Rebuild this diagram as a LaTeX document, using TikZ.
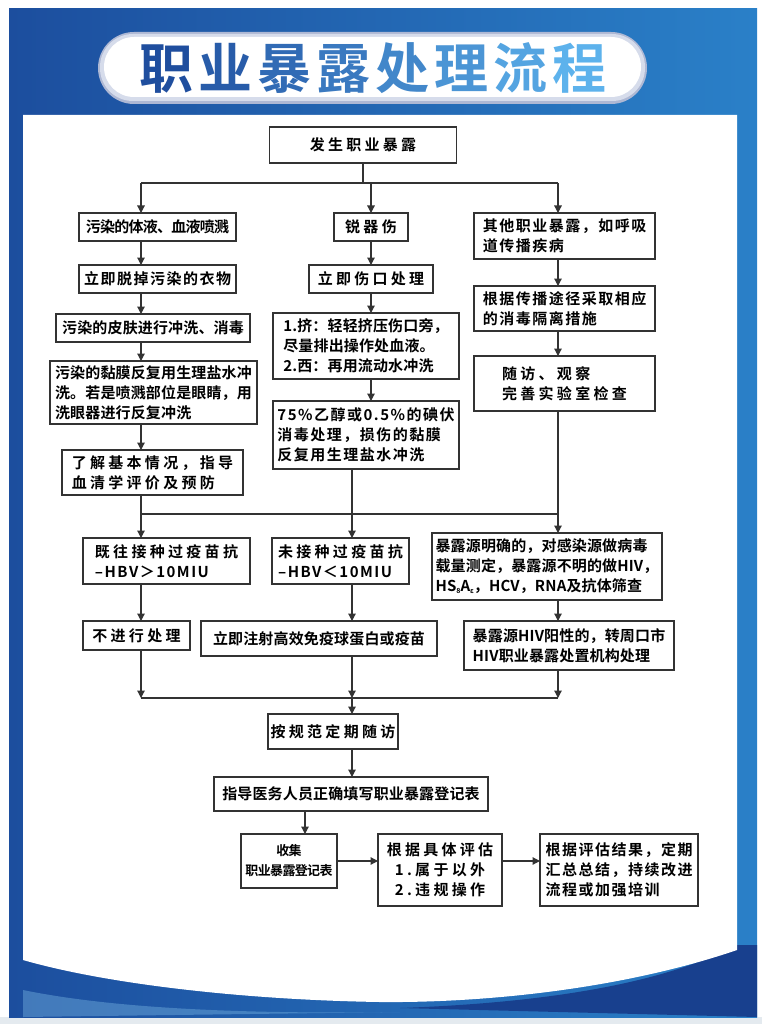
\documentclass[tikz,border=0pt]{standalone}
\usepackage{fontspec}
\usetikzlibrary{arrows.meta}
\newfontfamily\cjkn{Noto Sans CJK SC Bold}[LetterSpace=-5]
\newfontfamily\cjkm{Noto Sans CJK SC Bold}[LetterSpace=1]
\newfontfamily\cjkx{Noto Sans CJK SC Bold}[LetterSpace=10]
\newfontfamily\cjkw{Noto Sans CJK SC Bold}[LetterSpace=22]
\newfontfamily\titlefont{Noto Sans CJK SC Bold}
\newcommand{\sub}[1]{{\fontsize{7}{7}\selectfont\raisebox{-2pt}{#1}}}
\newcommand{\tch}[2]{\textcolor{titlelight!#1!titledark}{#2}}
\definecolor{bluedark}{HTML}{1C4E9E}
\definecolor{bluelight}{HTML}{2A80C8}
\definecolor{navy}{HTML}{18408E}
\definecolor{titledark}{HTML}{1F4E9E}
\definecolor{titlelight}{HTML}{5DB2EC}
\definecolor{pillshade}{HTML}{AEB8D4}
\definecolor{pillmid}{HTML}{D6DCEB}
\definecolor{linegray}{HTML}{333333}
\definecolor{stripgray}{HTML}{E4EAEF}

\begin{document}
\begin{tikzpicture}[x=1pt, y=-1pt,
  box/.style={draw=linegray, line width=1.4pt, fill=white, inner sep=2pt, outer sep=0pt,
    align=left, font={\cjkm\fontsize{15}{20}\selectfont}},
  nbox/.style={box, font={\cjkn\fontsize{15}{20}\selectfont}},
  xbox/.style={box, font={\cjkx\fontsize{15}{20}\selectfont}},
  wbox/.style={box, font={\cjkw\fontsize{15}{20}\selectfont}},
  line/.style={draw=linegray, line width=1.2pt},
  arr/.style={line, -{Triangle[width=7.5pt,length=7.5pt]}},
  ]
\useasboundingbox (0,0) rectangle (762,1024);

% frame
\fill[white] (0,0) rectangle (762,1024);
\fill[stripgray] (0,1017) rectangle (762,1024);
\shade[left color=bluedark, right color=bluelight] (9,9) rectangle (757,1017);
\fill[navy] (737,945) .. controls (660,985) and (540,1003) .. (400,1008) -- (757,1017) -- (757,945) -- cycle;
\fill[bluelight!70!white, opacity=.5] (23,990) .. controls (120,1010) and (260,1014) .. (400,1012) -- (23,1017) -- cycle;
\fill[white] (23,115) -- (737,115) -- (737,950) .. controls (620,990) and (480,1003) .. (380,1002)
  .. controls (250,1000) and (110,985) .. (23,960) -- cycle;

% title
\path[fill=pillshade, rounded corners=36pt] (98,32) rectangle (647,104);
\path[fill=pillmid, rounded corners=33pt] (100,34) rectangle (645,101);
\path[fill=white, rounded corners=30pt] (104,37) rectangle (641,97);
\path (373,68) node[font={\titlefont\fontsize{54}{54}\selectfont}](title){%
  \tch{0}{职}\kern5pt\tch{14}{业}\kern5pt\tch{29}{暴}\kern5pt\tch{43}{露}\kern5pt%
  \tch{57}{处}\kern5pt\tch{71}{理}\kern5pt\tch{86}{流}\kern5pt\tch{100}{程}};

% boxes
\path (363,145) node[wbox, minimum width=187pt, minimum height=36pt](occ){发生职业暴露};

\path (157.5,227) node[nbox, minimum width=157pt, minimum height=28pt](splash){污染的体液、血液喷溅};
\path (157.5,279) node[xbox, minimum width=157pt, minimum height=28pt](undress){立即脱掉污染的衣物};
\path (153,328) node[box, minimum width=194pt, minimum height=28pt](skin){污染的皮肤进行冲洗、消毒};
\path (153.5,392.5) node[box, minimum width=207pt, minimum height=63pt](mucosa){污染的黏膜反复用生理盐水冲\\洗。若是喷溅部位是眼睛，用\\洗眼器进行反复冲洗};
\path (152.5,472.5) node[wbox, minimum width=181pt, minimum height=45pt](serology){了解基本情况，指导\\血清学评价及预防};

\path (371,227) node[wbox, minimum width=74pt, minimum height=28pt](sharp){锐器伤};
\path (371,279) node[wbox, minimum width=124pt, minimum height=28pt](wound){立即伤口处理};
\path (366,346) node[box, minimum width=186pt, minimum height=66pt](squeeze){1.挤：轻轻挤压伤口旁，\\尽量排出操作处血液。\\2.西：再用流动水冲洗};
\path (366,435) node[xbox, minimum width=186pt, minimum height=68pt](disinfect){75\%乙醇或0.5\%的碘伏\\消毒处理，损伤的黏膜\\反复用生理盐水冲洗};

\path (564.5,236) node[xbox, minimum width=181pt, minimum height=46pt](other){其他职业暴露，如呼吸\\道传播疾病};
\path (564.5,308.5) node[xbox, minimum width=181pt, minimum height=45pt](isolate){根据传播途径采取相应\\的消毒隔离措施};
\path (564.5,383.5) node[wbox, minimum width=181pt, minimum height=55pt](followup){随访、观察\\完善实验室检查};

\path (166.5,561) node[wbox, minimum width=167pt, minimum height=46pt](vacc){既往接种过疫苗抗\\{\cjkx –HBV＞10MIU}};
\path (340.5,561) node[wbox, minimum width=137pt, minimum height=46pt](novacc){未接种过疫苗抗\\{\cjkx –HBV＜10MIU}};
\path (547,566.5) node[box, minimum width=230pt, minimum height=67pt](source){暴露源明确的，对感染源做病毒\\载量测定，暴露源不明的做HIV，\\HS\sub{8}A\sub{ε}，HCV，RNA及抗体筛查};

\path (136.5,635.5) node[wbox, minimum width=107pt, minimum height=29pt](none){不进行处理};
\path (319,638.5) node[box, minimum width=236pt, minimum height=35pt](inject){立即注射高效免疫球蛋白或疫苗};
\path (569,645.5) node[box, minimum width=210pt, minimum height=49pt](hiv){暴露源HIV阳性的，转周口市\\HIV职业暴露处置机构处理};

\path (333,731.5) node[wbox, minimum width=130pt, minimum height=35pt](regular){按规范定期随访};
\path (351,794) node[box, minimum width=274pt, minimum height=34pt](guide){指导医务人员正确填写职业暴露登记表};

\path (289,861) node[nbox, align=center, font={\cjkn\fontsize{13}{20}\selectfont}, minimum width=96pt, minimum height=54pt](collect){收集\\职业暴露登记表};
\path (440,870) node[wbox, align=center, minimum width=124pt, minimum height=72pt](assess){根据具体评估\\1.属于以外\\2.违规操作};
\path (619,870) node[xbox, minimum width=158pt, minimum height=72pt](improve){根据评估结果，定期\\汇总总结，持续改进\\流程或加强培训};

% column lines
\coordinate (xl) at (141,0);
\coordinate (xm) at (371,0);
\coordinate (xr) at (558,0);
\coordinate (xc) at (305,0);
\coordinate (split) at (363,183);
\coordinate (join1) at (352,514);
\coordinate (join2) at (352,698);

\draw[line] (occ) -- (split);
\draw[line] (split -| xl) -- (split -| xr);
\draw[arr] (split -| xl) -- (splash.north -| xl);
\draw[arr] (split -| xm) -- (sharp);
\draw[arr] (split -| xr) -- (other.north -| xr);

\draw[arr] (splash.south -| xl) -- (undress.north -| xl);
\draw[arr] (undress.south -| xl) -- (skin.north -| xl);
\draw[arr] (skin.south -| xl) -- (mucosa.north -| xl);
\draw[arr] (mucosa.south -| xl) -- (serology.north -| xl);

\draw[arr] (sharp) -- (wound);
\draw[arr] (wound.south -| xm) -- (squeeze.north -| xm);
\draw[arr] (squeeze.south -| xm) -- (disinfect.north -| xm);

\draw[arr] (other.south -| xr) -- (isolate.north -| xr);
\draw[arr] (isolate.south -| xr) -- (followup.north -| xr);

\draw[line] (serology.south -| xl) -- (join1 -| xl);
\draw[line] (join1 -| xl) -- (join1 -| xr);
\draw[arr] (join1 -| xl) -- (vacc.north -| xl);
\draw[arr] (disinfect.south -| join1) -- (novacc.north -| join1);
\draw[arr] (followup.south -| xr) -- (source.north -| xr);

\draw[arr] (vacc.south -| xl) -- (none.north -| xl);
\draw[arr] (novacc.south -| join1) -- (inject.north -| join1);
\draw[arr] (source.south -| xr) -- (hiv.north -| xr);

\draw[line] (join2 -| xl) -- (join2 -| xr);
\draw[arr] (none.south -| xl) -- (join2 -| xl);
\draw[arr] (inject.south -| join2) -- (join2);
\draw[arr] (hiv.south -| xr) -- (join2 -| xr);

\draw[arr] (join2) -- (regular.north -| join2);
\draw[arr] (regular.south -| join2) -- (guide.north -| join2);
\draw[arr] (guide.south -| xc) -- (collect.north -| xc);
\draw[arr] (collect.east) -- (collect.east -| assess.west);
\draw[arr] (collect.east -| assess.east) -- (collect.east -| improve.west);

\end{tikzpicture}
\end{document}
